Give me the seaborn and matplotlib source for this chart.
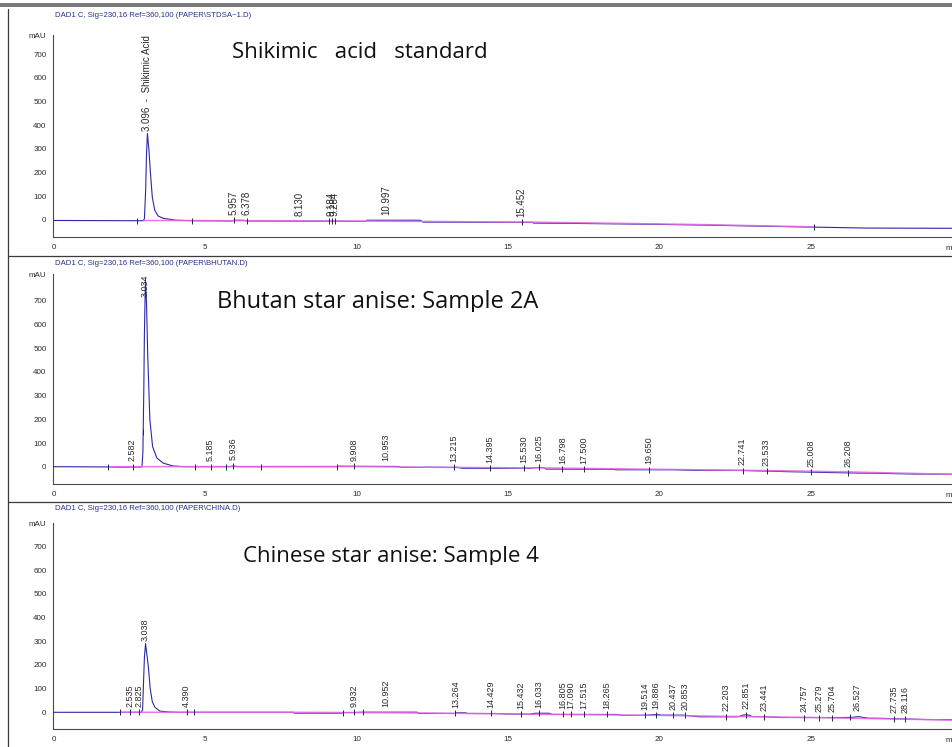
import numpy as np
import matplotlib
matplotlib.use("Agg")
import matplotlib.pyplot as plt
from matplotlib.lines import Line2D
from matplotlib.patches import Rectangle
from matplotlib.transforms import Bbox
import seaborn as sns

sns.set_style("white")
plt.rcParams['font.family'] = ['Liberation Sans', 'DejaVu Sans']

W, H = 953, 747

# ---------------- Shikimic acid standard ----------------
std_title = r"DAD1 C, Sig=230,16 Ref=360,100 (PAPER\STDSA~1.D)"
std_caption = "Shikimic   acid   standard"
std_time = [0.00, 2.74, 2.96, 3.00, 3.04, 3.07, 3.10, 3.15, 3.20, 3.26, 3.34, 3.45,
            3.62, 3.84, 4.05, 4.60, 5.90, 5.95, 6.25, 6.40, 9.25, 10.30, 10.35,
            12.10, 12.20, 15.80, 15.85, 16.90, 19.70, 21.70, 23.70, 25.10, 26.80, 29.70]
std_mau = [-2, -3, -3, 5, 120, 280, 365, 294, 197, 98, 42, 17,
           7, 3, -1, -3, -4, -1, -1, -4, -5, -6, -1,
           -1, -9, -10, -13, -14, -18, -22, -27, -30, -34, -35]
std_base_time = [2.98, 9.20, 12.10, 15.80, 19.70, 21.70, 25.10]
std_base_mau = [-2, -4, -6, -9, -16, -20, -29]
std_peak_rt = [3.096, 5.957, 6.378, 8.130, 9.184, 9.284, 10.997, 15.452]
std_main_name = "Shikimic Acid"
std_marks = [2.76, 4.58, 5.957, 6.378, 9.10, 9.184, 9.284, 15.452, 25.10]

# ---------------- Bhutan star anise ----------------
bt_title = r"DAD1 C, Sig=230,16 Ref=360,100 (PAPER\BHUTAN.D)"
bt_caption = "Bhutan star anise: Sample 2A"
bt_time = [0.00, 1.80, 2.30, 2.60, 2.92, 2.95, 2.98, 3.00, 3.034, 3.07, 3.11, 3.18,
           3.27, 3.41, 3.62, 3.95, 4.30, 5.80, 5.95, 6.10, 6.85, 9.35, 9.40, 11.40,
           11.45, 12.20, 12.25, 13.15, 13.30, 13.50, 14.60, 15.60, 15.70, 16.00, 16.20,
           16.25, 18.50, 18.55, 20.50, 21.10, 22.20, 22.70, 24.00, 24.20, 26.60, 26.90,
           28.40, 28.80, 29.70]
bt_mau = [0, -1, -2, -1, -1, 60, 320, 560, 790, 690, 470, 200,
          85, 37, 15, 3, 0, 0, 3, 0, 0, 0, 2, 1,
          -3, -3, -2, -3, -2, -7, -7, -6, -7, -3, -4,
          -10, -11, -13, -13, -15.5, -15.5, -16, -20, -21, -27, -27,
          -31, -31, -32]
bt_base_time = [1.85, 9.40, 13.00, 16.00, 20.00, 22.70, 25.00, 26.20, 29.70]
bt_base_mau = [0, 1, -3, -5, -11, -15, -19, -22, -32]
bt_peak_rt = [2.582, 3.034, 5.185, 5.936, 9.908, 10.953, 13.215, 14.395, 15.530,
              16.025, 16.798, 17.500, 19.650, 22.741, 23.533, 25.008, 26.208]
bt_main_name = ""
bt_marks = [1.80, 2.62, 2.96, 4.67, 5.185, 5.70, 5.936, 6.85, 9.36, 9.908, 13.215,
            14.395, 15.530, 16.025, 16.798, 17.500, 19.650, 22.741, 23.533, 25.008, 26.208]

# ---------------- Chinese star anise ----------------
cn_title = r"DAD1 C, Sig=230,16 Ref=360,100 (PAPER\CHINA.D)"
cn_caption = "Chinese star anise: Sample 4"
cn_time = [0.00, 2.20, 2.90, 2.94, 2.97, 3.00, 3.038, 3.13, 3.19, 3.26, 3.35, 3.51,
           3.84, 4.10, 7.90, 7.95, 9.50, 9.55, 9.90, 10.20, 12.00, 12.05, 13.25,
           13.30, 13.60, 13.65, 14.60, 15.20, 15.70, 15.90, 16.35, 16.45, 18.60,
           18.80, 19.40, 19.80, 19.95, 20.05, 20.80, 21.30, 22.60, 22.75, 22.85,
           22.98, 23.05, 23.40, 24.00, 26.10, 26.40, 26.55, 26.70, 26.90, 27.20,
           28.80, 29.70]
cn_mau = [0, 0, 0, 10, 122, 230, 290, 193, 101, 45, 21, 5,
          1, 0, 0, -3.6, -3.6, -1, -1, 0.5, 0.5, -5, -5,
          -2, -2, -5, -5, -8, -8, -4, -4, -9, -9,
          -13, -13, -10, -9, -12, -12, -19, -19, -12, -10,
          -13, -18, -18, -22, -22, -21, -18, -21, -25, -25,
          -30.5, -31]
cn_base_time = [2.20, 7.90, 9.70, 12.30, 15.70, 20.00, 25.00, 29.70]
cn_base_mau = [0, 0, -1, -3, -8, -13, -22, -33]
cn_peak_rt = [2.535, 2.825, 3.038, 4.390, 9.932, 10.952, 13.264, 14.429, 15.432,
              16.033, 16.805, 17.090, 17.515, 18.265, 19.514, 19.886, 20.437, 20.853,
              22.203, 22.851, 23.441, 24.757, 25.279, 25.704, 26.527, 27.735, 28.116]
cn_main_name = ""
cn_marks = [2.20, 2.535, 2.825, 4.390, 4.64, 9.56, 9.932, 10.20, 13.264, 14.429,
            15.432, 16.033, 16.805, 17.090, 17.515, 18.265, 19.514, 19.886, 20.437,
            20.853, 22.203, 22.851, 23.441, 24.757, 25.279, 25.704, 26.30, 27.735, 28.116]

panels = [
    dict(title=std_title, caption=std_caption, t=std_time, v=std_mau,
         bt=std_base_time, bv=std_base_mau, rt=std_peak_rt, name=std_main_name,
         marks=std_marks, zero_px=220.0, ylim=(-73, 780), title_px=15.7,
         cap_xy=(232, 58.3), cap_size=16, cap_clip=None, label_size=7.0),
    dict(title=bt_title, caption=bt_caption, t=bt_time, v=bt_mau,
         bt=bt_base_time, bv=bt_base_mau, rt=bt_peak_rt, name=bt_main_name,
         marks=bt_marks, zero_px=466.7, ylim=(-74, 813), title_px=263.3,
         cap_xy=(217, 308.3), cap_size=17, cap_clip=311.5, label_size=6.5),
    dict(title=cn_title, caption=cn_caption, t=cn_time, v=cn_mau,
         bt=cn_base_time, bv=cn_base_mau, rt=cn_peak_rt, name=cn_main_name,
         marks=cn_marks, zero_px=712.3, ylim=(-72, 797), title_px=508.3,
         cap_xy=(243, 561.7), cap_size=16, cap_clip=565.0, label_size=6.5),
]

PX_PER_MAU = 0.237
X0_PX = 53.5
PX_PER_MIN = 30.3
T_MAX = (W - X0_PX) / PX_PER_MIN

TRACE = '#2a2aa6'
BASE = '#e36ae3'
INK = '#2b2b2b'
TITLE = '#27318c'

fig = plt.figure(figsize=(W / 100, H / 100), dpi=100)
fig.patch.set_facecolor('white')

for p in panels:
    ymin, ymax = p['ylim']
    bot_px = p['zero_px'] - ymin * PX_PER_MAU
    top_px = p['zero_px'] - ymax * PX_PER_MAU
    ax = fig.add_axes([X0_PX / W, 1 - bot_px / H, (W - X0_PX) / W, (bot_px - top_px) / H])
    ax.set_facecolor('none')

    sns.lineplot(x=p['t'], y=p['v'], ax=ax, color=TRACE, linewidth=0.8,
                 estimator=None, sort=False, zorder=3)
    sns.lineplot(x=p['bt'], y=p['bv'], ax=ax, color=BASE, linewidth=1.1,
                 estimator=None, sort=False, zorder=4, alpha=0.9)

    # integration event marks on the trace
    mark_y = np.interp(p['marks'], p['t'], p['v'])
    ax.plot(p['marks'], mark_y, linestyle='none', marker='|', markersize=4.5,
            markeredgewidth=0.7, color='#23235e', zorder=5)

    # retention time labels
    apex = max(p['v'])
    fs = p['label_size']
    for rt in p['rt']:
        y_here = float(np.interp(rt, p['t'], p['v']))
        is_main = y_here > 0.25 * apex
        txt = f"{rt:.3f}"
        if is_main and p['name']:
            txt = f"{txt}  -  {p['name']}"
        if is_main and apex > 0.85 * ymax:
            ax.annotate(txt, xy=(rt, ymax), xytext=(0, 0), textcoords='offset points',
                        rotation=90, ha='center', va='top', fontsize=fs, color=INK,
                        annotation_clip=False, zorder=6)
        else:
            off = 2 if is_main else 4
            ax.annotate(txt, xy=(rt, apex if is_main else y_here), xytext=(0, off),
                        textcoords='offset points', rotation=90, ha='center',
                        va='bottom', fontsize=fs, color=INK,
                        annotation_clip=False, zorder=6)

    ax.set_xlim(0, T_MAX)
    ax.set_ylim(ymin, ymax)
    ax.set_xlabel('')
    ax.set_ylabel('')
    for side in ('top', 'right'):
        ax.spines[side].set_visible(False)
    for side in ('left', 'bottom'):
        ax.spines[side].set_color('#4a4a4a')
        ax.spines[side].set_linewidth(0.8)

    ax.set_xticks(range(0, 30, 5))
    ax.set_xticks(range(0, 30), minor=True)
    ax.set_xticklabels([str(v) for v in range(0, 30, 5)])
    yt = list(range(0, 800, 100)) + [ymax]
    ax.set_yticks(yt)
    ax.set_yticklabels([str(v) for v in range(0, 800, 100)] + ['mAU'])
    ax.set_yticks(np.arange(-60, ymax, 20), minor=True)
    ax.tick_params(axis='x', which='major', direction='in', length=4, width=0.6,
                   colors='#4a4a4a', labelcolor=INK, labelsize=5.8, pad=5)
    ax.tick_params(axis='x', which='minor', direction='in', length=2.5, width=0.5,
                   colors='#4a4a4a')
    ax.tick_params(axis='y', which='major', direction='out', length=2.5, width=0.6,
                   colors='#4a4a4a', labelcolor=INK, labelsize=5.8, pad=2.5)
    ax.tick_params(axis='y', which='minor', direction='out', length=1.4, width=0.4,
                   colors='#4a4a4a')
    ax.annotate('min', xy=(29.45, 0), xycoords=('data', 'axes fraction'),
                xytext=(0, -8.3), textcoords='offset points', ha='left', va='center',
                fontsize=5.8, color=INK, annotation_clip=False)

    fig.text(55 / W, 1 - p['title_px'] / H, p['title'], color=TITLE, fontsize=5.6,
             ha='left', va='center')
    cap = fig.text(p['cap_xy'][0] / W, 1 - p['cap_xy'][1] / H, p['caption'],
                   fontfamily='Open Sans', fontsize=p['cap_size'], color='#111111',
                   ha='left', va='baseline')
    if p['cap_clip'] is not None:
        cap.set_clip_box(Bbox([[0, H - p['cap_clip']], [W, H]]))
        cap.set_clip_on(True)

# page frame: top band, left edge, panel separators
fig.add_artist(Rectangle((0, 1 - 6.5 / H), 1, 4 / H, transform=fig.transFigure,
                         facecolor='#7a7a7a', edgecolor='none'))
fig.add_artist(Line2D([8 / W, 8 / W], [0, 1 - 8.5 / H], transform=fig.transFigure,
                      color='#3a3a3a', linewidth=0.9))
for y_px in (255.7, 502.3):
    fig.add_artist(Line2D([8 / W, 1], [1 - y_px / H, 1 - y_px / H],
                          transform=fig.transFigure, color='#3a3a3a', linewidth=0.9))

fig.savefig('out.png', dpi=100, facecolor='white')
